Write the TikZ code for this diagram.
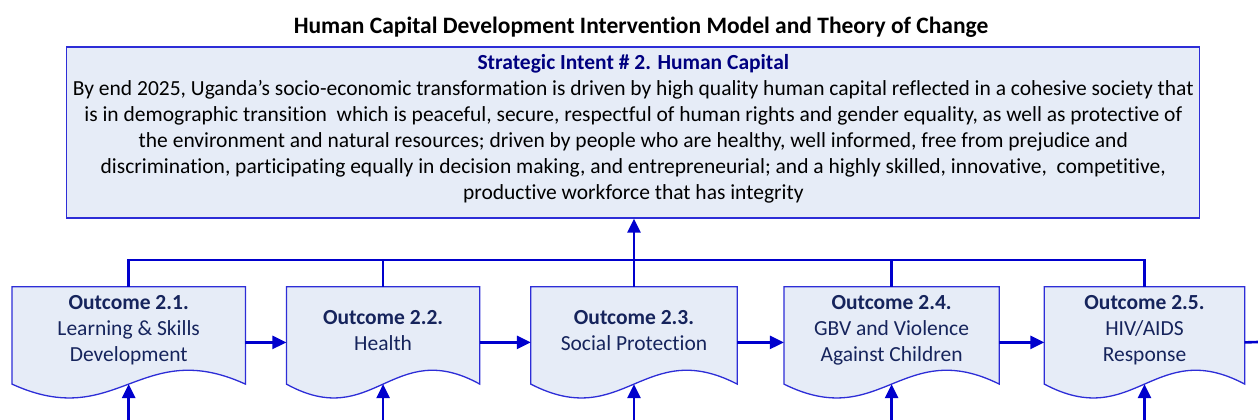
\documentclass[tikz,border=0pt]{standalone}
\usepackage{fontspec}
\setmainfont{Carlito}[Ligatures={NoCommon,TeX}]
\usetikzlibrary{arrows.meta,positioning,calc}
\definecolor{linkblue}{RGB}{0,0,205}
\definecolor{boxline}{RGB}{45,45,215}
\definecolor{boxfill}{RGB}{230,236,247}
\definecolor{outtext}{RGB}{22,36,92}
\definecolor{intentblue}{RGB}{0,0,128}
\pgfdeclarelayer{bg}
\pgfsetlayers{bg,main}
\tikzset{
    link/.style={line width=2.6pt, linkblue},
    flow/.style={-{Triangle[length=14pt, width=13pt]}, line width=2.6pt, linkblue},
    outcome/.style={rectangle, minimum height=87pt, inner sep=0pt, align=center, text=outtext, font=\fontsize{21.5}{26}\selectfont},
    intentbox/.style={draw=boxline, fill=boxfill, line width=1.3pt, minimum width=1133pt, minimum height=171pt},
    docline/.style={draw=boxline, fill=boxfill, line width=1.3pt}
}
\newcommand{\docshape}[1]{%
  \begin{pgfonlayer}{bg}
    \path[docline] (#1.north west) -- ($(#1.south west)+(0,10)$)
      .. controls ($(#1.south west)!0.45!(#1.south east)+(0,58)$) and ($(#1.south west)!0.55!(#1.south east)+(0,-38)$) .. ($(#1.south east)+(0,10)$)
      -- (#1.north east) -- cycle;
  \end{pgfonlayer}}

\begin{document}
\begin{tikzpicture}[x=1pt, y=-1pt]
    \useasboundingbox (0,0) rectangle (1258,420);
    \node[font=\fontsize{23.5}{28}\selectfont\bfseries] (title) at (641,27) {Human Capital Development Intervention Model and Theory of Change};
    \node[intentbox] (intent) at (633.3,132.5) {};
    \node[align=center, font=\fontsize{21.5}{26}\selectfont] (intenttxt) at ($(intent.center)+(0,-4)$)
        {\textcolor{intentblue}{\textbf{Strategic Intent \# 2. Human Capital}}\\
         By end 2025, Uganda’s socio-economic transformation is driven by high quality human capital reflected in a cohesive society that\\
         is in demographic transition \ which is peaceful, secure, respectful of human rights and gender equality, as well as protective of\\
         the environment and natural resources; driven by people who are healthy, well informed, free from prejudice and\\
         discrimination, participating equally in decision making, and entrepreneurial; and a highly skilled, innovative, \ competitive,\\
         productive workforce that has integrity};

    \node[outcome, minimum width=233pt, anchor=north west] (o1) at (12,286.7) {\textbf{Outcome 2.1.}\\Learning \& Skills\\Development};
    \node[outcome, minimum width=193pt, right=41pt of o1] (o2) {\textbf{Outcome 2.2.}\\Health};
    \node[outcome, minimum width=206pt, right=51pt of o2] (o3) {\textbf{Outcome 2.3.}\\Social Protection};
    \node[outcome, minimum width=215pt, right=46.7pt of o3] (o4) {\textbf{Outcome 2.4.}\\GBV and Violence\\Against Children};
    \node[outcome, minimum width=200pt, right=45pt of o4] (o5) {\textbf{Outcome 2.5.}\\HIV/AIDS\\Response};
    \docshape{o1}
    \docshape{o2}
    \docshape{o3}
    \docshape{o4}
    \docshape{o5}

    \coordinate (bus) at (0,260);
    \coordinate (floor) at (0,420);
    \coordinate (exit) at (1258,342);

    % outcomes feed the strategic intent
    \draw[link] (o1.north) -- (o1.north |- bus) -- (o5.north |- bus) -- (o5.north);
    \draw[link] (o2.north) -- (o2.north |- bus);
    \draw[link] (o4.north) -- (o4.north |- bus);
    \draw[flow] (o3.north) -- (o3.north |- intent.south);

    % chain between outcomes
    \draw[flow] ($(o1.east)+(0,12)$) -- ($(o2.west)+(0,12)$);
    \draw[flow] ($(o2.east)+(0,12)$) -- ($(o3.west)+(0,12)$);
    \draw[flow] ($(o3.east)+(0,12)$) -- ($(o4.west)+(0,12)$);
    \draw[flow] ($(o4.east)+(0,12)$) -- ($(o5.west)+(0,12)$);
    \draw[link] ($(o5.east)+(0,12)$) -- (exit);

    % inputs from below
    \draw[flow] (o1.south |- floor) -- ($(o1.south)+(0,10)$);
    \draw[flow] (o2.south |- floor) -- ($(o2.south)+(0,10)$);
    \draw[flow] (o3.south |- floor) -- ($(o3.south)+(0,10)$);
    \draw[flow] (o4.south |- floor) -- ($(o4.south)+(0,10)$);
    \draw[flow] (o5.south |- floor) -- ($(o5.south)+(0,10)$);
\end{tikzpicture}
\end{document}
